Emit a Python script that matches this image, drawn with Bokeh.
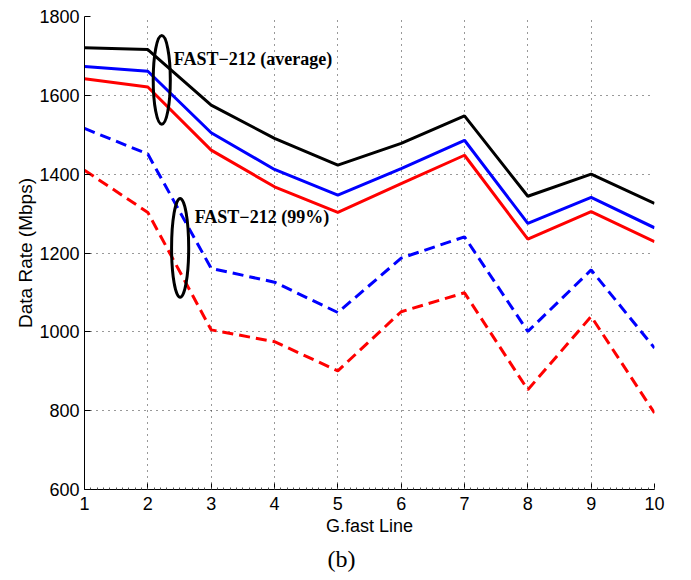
from bokeh.plotting import figure
from bokeh.models import Range1d, FixedTicker, Title
from bokeh.embed import file_html
from bokeh.resources import INLINE
from bokeh.models import Label

lines = [1, 2, 3, 4, 5, 6, 7, 8, 9, 10]
avg_black = [1721, 1716, 1575, 1491, 1423, 1478, 1548, 1344, 1400, 1326]
avg_blue = [1673, 1661, 1505, 1412, 1347, 1414, 1486, 1275, 1341, 1264]
avg_red = [1642, 1621, 1461, 1368, 1303, 1376, 1448, 1235, 1305, 1229]
p99_blue = [1516, 1451, 1161, 1126, 1049, 1187, 1241, 1001, 1157, 959]
p99_red = [1410, 1303, 1005, 975, 901, 1051, 1099, 853, 1039, 794]
y_ticks = [600, 800, 1000, 1200, 1400, 1600, 1800]

p = figure(width=680, height=578, output_backend="svg", toolbar_location=None,
           x_range=Range1d(1, 10), y_range=Range1d(600, 1800),
           min_border_left=84, min_border_right=26, min_border_top=16, min_border_bottom=89)
p.outline_line_color = None
p.background_fill_color = "white"

sans = "Liberation Sans"
serif = "Liberation Serif"

p.xaxis.ticker = FixedTicker(ticks=lines, minor_ticks=[1 + i * 0.1 for i in range(91)])
p.yaxis.ticker = FixedTicker(ticks=y_ticks)
for ax in (p.xaxis[0], p.yaxis[0]):
    ax.axis_line_color = "black"
    ax.axis_line_width = 1
    ax.major_tick_in = 6
    ax.major_tick_out = 0
    ax.major_tick_line_color = "black"
    ax.major_label_text_font = sans
    ax.major_label_text_font_size = "18px"
    ax.major_label_text_color = "black"
    ax.axis_label_text_font = sans
    ax.axis_label_text_font_style = "normal"
    ax.axis_label_text_color = "black"
p.xaxis.axis_label_text_font_size = "18px"
p.yaxis.axis_label_text_font_size = "19px"
p.xaxis.minor_tick_in = 2
p.xaxis.minor_tick_out = 0
p.xaxis.minor_tick_line_color = "#555555"
p.yaxis.minor_tick_line_color = None
p.xaxis.major_label_standoff = 7
p.yaxis.major_label_standoff = 5
p.xaxis.axis_label = "G.fast Line"
p.yaxis.axis_label = "Data Rate (Mbps)"
p.xaxis.axis_label_standoff = 3
p.yaxis.axis_label_standoff = 0

for g in (p.xgrid[0], p.ygrid[0]):
    g.grid_line_color = "#333333"
    g.grid_line_dash = "1 5"
    g.grid_line_width = 1

p.line(lines, p99_red, line_color="red", line_width=3, line_dash="11 6")
p.line(lines, p99_blue, line_color="blue", line_width=3, line_dash="11 6")
p.line(lines, avg_red, line_color="red", line_width=3)
p.line(lines, avg_blue, line_color="blue", line_width=3)
p.line(lines, avg_black, line_color="black", line_width=3)

p.ellipse(x=[2.22], y=[1639], width=[0.27], height=[225], fill_color=None,
          line_color="black", line_width=3)
p.ellipse(x=[2.51], y=[1213], width=[0.27], height=[251], fill_color=None,
          line_color="black", line_width=3)

p.add_layout(Label(x=2.41, y=1691, text="FAST\u2212212 (average)", text_font=serif,
                   text_font_size="18px", text_font_style="bold", text_baseline="middle",
                   text_color="black"))
p.add_layout(Label(x=2.74, y=1292, text="FAST\u2212212 (99%)", text_font=serif,
                   text_font_size="18px", text_font_style="bold", text_baseline="middle",
                   text_color="black"))
p.add_layout(Title(text="(b)", text_font=serif, text_font_size="24px",
                   text_font_style="normal", text_color="black",
                   align="left", offset=243, standoff=11), "below")

open("out.html", "w").write(file_html(p, INLINE))
